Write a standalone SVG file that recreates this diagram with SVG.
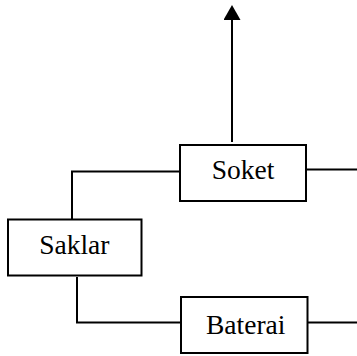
<svg xmlns="http://www.w3.org/2000/svg" width="357" height="356" viewBox="0 0 357 356">
<style>
.box{fill:#fff;stroke:#000;stroke-width:2}
.ln{fill:none;stroke:#000;stroke-width:2}
.t{font-family:"Liberation Serif","Times New Roman",serif;font-size:27.5px;fill:#000;text-anchor:middle}
</style>
<defs>
<marker id="ah" markerUnits="userSpaceOnUse" markerWidth="16" markerHeight="17" viewBox="0 0 16 17" refX="0" refY="8.5" orient="auto">
<path d="M0,0 L15,8.5 L0,17 Z" fill="#000"/>
</marker>
</defs>
<g id="connectors">
<line class="ln" x1="232" y1="142" x2="232" y2="20" marker-end="url(#ah)"/>
<polyline class="ln" points="306,169.5 357,169.5"/>
<polyline class="ln" points="180,171.5 72,171.5 72,219"/>
<polyline class="ln" points="77,277 77,322.5 181,322.5"/>
<polyline class="ln" points="308,322.5 357,322.5"/>
</g>
<g id="soket">
<rect class="box" x="180" y="145" width="126" height="56"/>
<text class="t" x="243" y="179.3">Soket</text>
</g>
<g id="saklar">
<rect class="box" x="8" y="219.5" width="133.5" height="56"/>
<text class="t" x="74.3" y="254.3">Saklar</text>
</g>
<g id="baterai">
<rect class="box" x="181" y="297" width="126.5" height="56"/>
<text class="t" x="245.7" y="334.3">Baterai</text>
</g>
</svg>
